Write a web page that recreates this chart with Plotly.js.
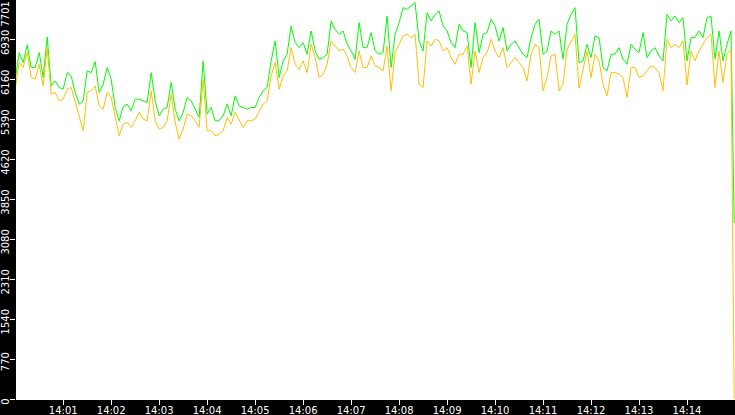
<!DOCTYPE html>
<html>
<head>
<meta charset="utf-8">
<script src="https://cdn.plot.ly/plotly-3.0.1.min.js"></script>
<style>
  html, body { margin: 0; padding: 0; background: #000; }
  #chart { width: 735px; height: 415px; }
</style>
</head>
<body>
<div id="chart"></div>
<script>
// one sample every 5 seconds from 14:00:00, last sample at 14:14:59
const startTime = '2024-01-01 14:00:00';
const sampleStep = 5;
const lastTime = '2024-01-01 14:14:59';

const greenSeries = [
    6173, 6686, 6494, 6834, 6397, 6397, 6686, 6205, 6988, 6044,
    6140, 6012, 5980, 6301, 6237, 5916, 5691, 5755, 6333, 6301,
    6513, 5916, 6076, 6397, 6173, 5627, 5370, 5640, 5691, 5563,
    5787, 5787, 5755, 5723, 6301, 5755, 5466, 5595, 5627, 6108,
    5595, 5370, 5531, 5819, 5755, 5595, 5434, 6526, 5498, 5627,
    5370, 5370, 5466, 5691, 5466, 5852, 5659, 5627, 5595, 5627,
    5627, 5819, 5948, 6012, 6525, 6911, 6204, 6525, 6654, 7200,
    6879, 6782, 6879, 6654, 7103, 6718, 6558, 6590, 6654, 7296,
    7135, 7039, 7103, 6846, 6718, 6558, 7264, 6782, 6782, 7071,
    6718, 6654, 6686, 7392, 6400, 7039, 7264, 7553, 7520, 7585,
    7649, 6911, 6718, 7456, 7296, 7424, 7488, 7200, 7103, 6879,
    6782, 7232, 7103, 7071, 6397, 7264, 6686, 7039, 7071, 7328,
    7200, 6911, 7168, 6718, 6846, 6911, 6782, 6654, 6590, 6975,
    7232, 7328, 6654, 6718, 7103, 7039, 7103, 6558, 7232, 7424,
    7553, 6493, 6525, 6846, 6590, 7007, 6975, 6397, 6333, 6654,
    6654, 6782, 6558, 6461, 6846, 6750, 6686, 7071, 6590, 6718,
    6782, 6622, 6525, 7424, 7296, 7392, 7264, 7360, 6525, 6975,
    6975, 7103, 6975, 7360, 7392, 6558, 7103, 6525, 6846, 7103,
    3400
];

const orangeSeries = [
    5980, 6494, 6397, 6686, 6205, 6173, 6461, 6044, 6782, 5884,
    5916, 5755, 5787, 5980, 6012, 5723, 5434, 5177, 5916, 5948,
    6044, 5659, 5595, 5916, 5820, 5434, 5081, 5306, 5338, 5242,
    5370, 5531, 5402, 5370, 5948, 5370, 5210, 5242, 5370, 5884,
    5338, 5017, 5210, 5498, 5466, 5370, 5242, 6173, 5177, 5177,
    5081, 5113, 5177, 5434, 5306, 5531, 5370, 5242, 5370, 5370,
    5402, 5562, 5691, 5755, 6237, 6493, 5980, 6237, 6333, 6782,
    6461, 6365, 6525, 6301, 6846, 6590, 6204, 6269, 6461, 6911,
    6814, 6718, 6750, 6622, 6397, 6301, 6718, 6397, 6397, 6622,
    6429, 6397, 6333, 6814, 5950, 6686, 6846, 7007, 7039, 6975,
    7039, 6076, 6012, 6911, 6814, 6943, 6911, 6718, 6782, 6590,
    6461, 6654, 6654, 6814, 6076, 6718, 6301, 6590, 6686, 6943,
    6718, 6590, 6782, 6397, 6493, 6590, 6493, 6397, 6140, 6654,
    6846, 6782, 5950, 6204, 6622, 6654, 5950, 6076, 6750, 6911,
    7039, 6000, 6365, 6718, 6204, 6654, 6525, 6076, 5850, 6301,
    6301, 6269, 6204, 5819, 6397, 6397, 6204, 6237, 6333, 6429,
    6397, 6301, 5950, 6943, 6782, 6846, 6782, 6911, 6060, 6718,
    6525, 6718, 6846, 6975, 7039, 6012, 6718, 6108, 6654, 6750,
    0
];

const yMax = 7701;
const yTickLabels = ['0', '770', '1540', '2310', '3080', '3850', '4620', '5390', '6160', '6930'];

function pad(n) {
    return String(n).padStart(2, '0');
}

function makeTimes(count) {
    let base = new Date(startTime.replace(' ', 'T') + 'Z').getTime();
    let times = [];
    for (let i = 0; i < count; i++) {
        let d = new Date(base + i * sampleStep * 1000);
        times.push('2024-01-01 ' + pad(d.getUTCHours()) + ':' + pad(d.getUTCMinutes()) + ':' + pad(d.getUTCSeconds()));
    }
    times[count - 1] = lastTime;
    return times;
}

const times = makeTimes(greenSeries.length);
const tickStep = yMax / 10;

let data = [{
    x: times,
    y: greenSeries,
    type: 'scatter',
    mode: 'lines',
    line: { color: '#00ff00', width: 1 },
    hoverinfo: 'skip'
}, {
    x: times,
    y: orangeSeries,
    type: 'scatter',
    mode: 'lines',
    line: { color: '#ffc000', width: 1 },
    hoverinfo: 'skip'
}];

let axisFont = { family: 'DejaVu Sans', size: 10, color: '#ffffff' };

let layout = {
    width: 735,
    height: 415,
    margin: { l: 16, r: 0, t: 0, b: 16, pad: 0 },
    paper_bgcolor: '#000000',
    plot_bgcolor: '#ffffff',
    showlegend: false,
    xaxis: {
        type: 'date',
        range: ['2024-01-01 14:00:01', '2024-01-01 14:15:00'],
        tick0: '2024-01-01 14:00:00',
        dtick: 60000,
        tickformat: '%H:%M',
        ticks: 'outside',
        ticklen: 5,
        tickcolor: '#ffffff',
        tickfont: axisFont,
        ticklabelstandoff: -3,
        showgrid: false,
        zeroline: false,
        showline: true,
        linecolor: '#ffffff',
        linewidth: 1,
        fixedrange: true
    },
    yaxis: {
        range: [0, yMax],
        tickvals: yTickLabels.map((t, i) => i * tickStep),
        ticktext: yTickLabels,
        tickangle: -90,
        ticks: 'outside',
        ticklen: 5,
        tickcolor: '#ffffff',
        tickfont: axisFont,
        ticklabelstandoff: -3,
        ticklabelshift: 4,
        showgrid: false,
        zeroline: false,
        showline: false,
        fixedrange: true
    },
    annotations: [{
        text: String(yMax),
        xref: 'paper',
        yref: 'paper',
        x: 0,
        y: 1,
        xanchor: 'center',
        yanchor: 'top',
        xshift: -11,
        textangle: -90,
        showarrow: false,
        font: axisFont
    }]
};

Plotly.newPlot('chart', data, layout, { displayModeBar: false, staticPlot: true });
</script>
</body>
</html>
